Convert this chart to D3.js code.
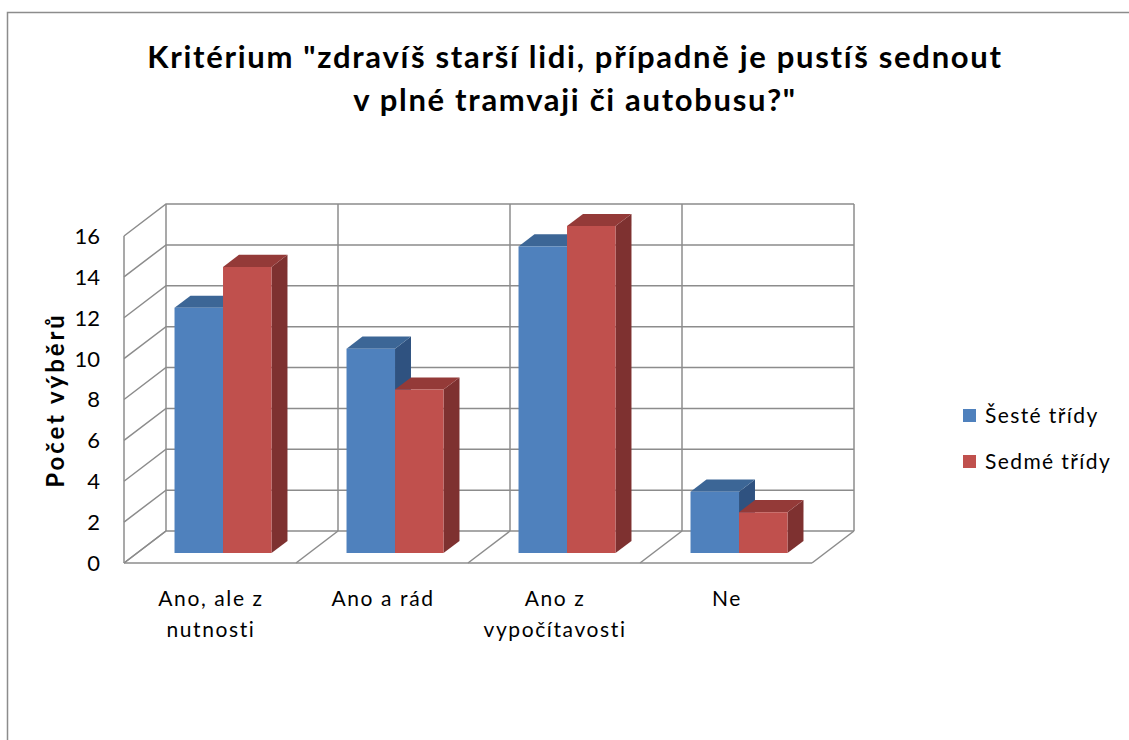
<!DOCTYPE html>
<html>
<head>
<meta charset="utf-8">
<script src="https://cdn.jsdelivr.net/npm/d3@7"></script>
<style>
  body { margin: 0; background: #fff; }
  svg { display: block; font-family: Lato, "Open Sans", sans-serif; }
</style>
</head>
<body>
<svg id="chart" width="1129" height="740"></svg>
<script>
// chart values
var categories = ['Ano, ale z nutnosti', 'Ano a rád', 'Ano z vypočítavosti', 'Ne'];
var categoryLines = [['Ano, ale z', 'nutnosti'], ['Ano a rád'], ['Ano z', 'vypočítavosti'], ['Ne']];
var seriesNames = ['Šesté třídy', 'Sedmé třídy'];
var sesteTridy = [12, 10, 15, 3];
var sedmeTridy = [14, 8, 16, 2];
var yTicks = [0, 2, 4, 6, 8, 10, 12, 14, 16];

var svg = d3.select('#chart');

// oblique 3d box: front plane + depth offset
var front = {left: 124, right: 812, bottom: 563, top: 236};
var depth = {dx: 42, dy: -32};
var barDepth = [0.31, 0.69];

var x = d3.scaleBand().domain(categories).range([front.left, front.right]);
var inner = d3.scaleBand().domain(seriesNames).range([0, 97]);
var h = d3.scaleLinear().domain([0, 16]).range([0, front.bottom - front.top]);

function proj(px, ph, t) {
    return [px + depth.dx * t, front.bottom - ph + depth.dy * t];
}

var colors = {
    'Šesté třídy': {front: '#4F81BD', top: '#3C6696', side: '#2F5280'},
    'Sedmé třídy': {front: '#C0504D', top: '#943A38', side: '#7E3130'}
};

// border
svg.append('rect')
    .attr('x', 7.5).attr('y', 12.5)
    .attr('width', 1140).attr('height', 760)
    .attr('fill', 'none').attr('stroke', '#8c8c8c').attr('stroke-width', 1.5);

// title
var title = svg.append('text')
    .attr('text-anchor', 'middle')
    .attr('font-weight', 'bold')
    .attr('font-size', 31)
    .attr('letter-spacing', 1.7)
    .attr('fill', '#000');
title.append('tspan').attr('x', 575).attr('y', 68)
    .text('Kritérium "zdravíš starší lidi, případně je pustíš sednout');
title.append('tspan').attr('x', 575).attr('y', 111)
    .text('v plné tramvaji či autobusu?"');

var grid = svg.append('g')
    .attr('fill', 'none')
    .attr('stroke', '#8c8c8c')
    .attr('stroke-width', 1.5);

var line = d3.line();

// horizontal gridlines: side wall + back wall
yTicks.forEach(function(v) {
    var a = proj(front.left, h(v), 0);
    var b = proj(front.left, h(v), 1);
    var c = proj(front.right, h(v), 1);
    grid.append('path').attr('d', line([a, b, c]));
});

// vertical edges of walls, floor lines
var wallTop = h(16);
grid.append('path').attr('d', line([proj(front.left, 0, 0), proj(front.left, wallTop, 0)]));
var edges = [front.left].concat(categories.map(function(c) { return x(c) + x.bandwidth(); }));
edges.forEach(function(ex) {
    grid.append('path').attr('d', line([proj(ex, 0, 1), proj(ex, wallTop, 1)]));
    grid.append('path').attr('d', line([proj(ex, 0, 0), proj(ex, 0, 1)]));
});
grid.append('path').attr('d', line([proj(front.left, 0, 0), proj(front.right, 0, 0)]));

// y tick labels
svg.append('g').selectAll('text')
    .data(yTicks)
  .enter().append('text')
    .attr('x', 100)
    .attr('y', function(d) { return front.bottom - h(d); })
    .attr('dy', '0.36em')
    .attr('text-anchor', 'end')
    .attr('font-size', 22)
    .attr('fill', '#000')
    .text(function(d) { return d; });

// y axis title
svg.append('text')
    .attr('transform', 'translate(64,400) rotate(-90)')
    .attr('text-anchor', 'middle')
    .attr('font-weight', 'bold')
    .attr('font-size', 24)
    .attr('letter-spacing', 2.9)
    .attr('fill', '#000')
    .text('Počet výběrů');

// category labels
var catLabels = svg.append('g').selectAll('text')
    .data(categories)
  .enter().append('text')
    .attr('text-anchor', 'middle')
    .attr('font-size', 21)
    .attr('letter-spacing', 1.6)
    .attr('fill', '#000');
catLabels.each(function(d, i) {
    var t = d3.select(this);
    categoryLines[i].forEach(function(s, j) {
        t.append('tspan')
            .attr('x', x(d) + x.bandwidth() / 2 + 1)
            .attr('y', 606 + j * 31)
            .text(s);
    });
});

// bars
var bars = [];
categories.forEach(function(c, i) {
    bars.push({cat: c, series: seriesNames[0], value: sesteTridy[i]});
    bars.push({cat: c, series: seriesNames[1], value: sedmeTridy[i]});
});

var barG = svg.append('g');
bars.forEach(function(d) {
    var x0 = x(d.cat) + (x.bandwidth() - inner.range()[1]) / 2 + inner(d.series);
    var x1 = x0 + inner.bandwidth();
    var hv = h(d.value);
    var t0 = barDepth[0], t1 = barDepth[1];
    var col = colors[d.series];
    var g = barG.append('g');
    // side face
    g.append('path')
        .attr('d', line([proj(x1, 0, t0), proj(x1, hv, t0), proj(x1, hv, t1), proj(x1, 0, t1)]) + 'Z')
        .attr('fill', col.side);
    // top face
    g.append('path')
        .attr('d', line([proj(x0, hv, t0), proj(x0, hv, t1), proj(x1, hv, t1), proj(x1, hv, t0)]) + 'Z')
        .attr('fill', col.top);
    // front face
    g.append('path')
        .attr('d', line([proj(x0, 0, t0), proj(x0, hv, t0), proj(x1, hv, t0), proj(x1, 0, t0)]) + 'Z')
        .attr('fill', col.front);
});

// legend
var legend = svg.append('g').selectAll('g')
    .data(seriesNames)
  .enter().append('g')
    .attr('transform', function(d, i) { return 'translate(963,' + (409 + i * 46) + ')'; });
legend.append('rect')
    .attr('width', 13).attr('height', 13)
    .attr('fill', function(d) { return colors[d].front; });
legend.append('text')
    .attr('x', 22).attr('y', 14)
    .attr('font-size', 21)
    .attr('letter-spacing', 1.4)
    .attr('fill', '#000')
    .text(function(d) { return d; });
</script>
</body>
</html>
